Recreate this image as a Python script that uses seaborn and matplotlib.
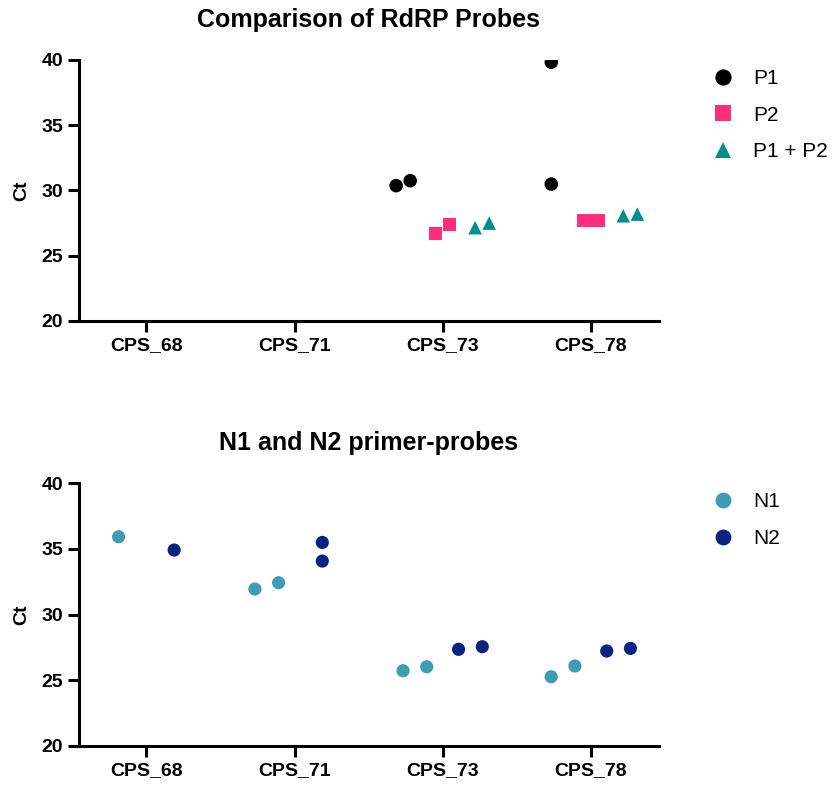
import matplotlib
matplotlib.use("Agg")
import matplotlib.pyplot as plt
import seaborn as sns
import pandas as pd

# samples on the x axis
samples = ["CPS_68", "CPS_71", "CPS_73", "CPS_78"]

# RdRP probes (two replicates per sample, empty where not run)
rdrp_probes = ["P1", "P2", "P1 + P2"]
p1_ct = [[], [], [30.37, 30.75], [39.83, 30.49]]
p2_ct = [[], [], [26.70, 27.38], [27.70, 27.70]]
p1p2_ct = [[], [], [27.15, 27.50], [28.06, 28.19]]

# N1 / N2 primer-probes
n_probes = ["N1", "N2"]
n1_ct = [[35.93], [31.95, 32.43], [25.73, 26.03], [25.27, 26.09]]
n2_ct = [[34.92], [35.50, 34.08], [27.36, 27.56], [27.23, 27.43]]

rdrp_colors = {"P1": "#000000", "P2": "#FF2D7A", "P1 + P2": "#008F8C"}
rdrp_markers = {"P1": "o", "P2": "s", "P1 + P2": "^"}
n_colors = {"N1": "#3F9CB5", "N2": "#0B2283"}
n_markers = {"N1": "o", "N2": "o"}


def build_frame(series, names, group_width, spread, close):
    # long table + x position: sample index, dodge by probe, spread close replicates
    rows = []
    n = len(names)
    for j, (name, vals) in enumerate(zip(names, series)):
        dodge = (j - (n - 1) / 2) * group_width / n
        for i, reps in enumerate(vals):
            reps = sorted(reps)
            if len(reps) == 2 and abs(reps[1] - reps[0]) < close:
                offs = [-spread / 2, spread / 2]
            else:
                offs = [0] * len(reps)
            for v, o in zip(reps, offs):
                rows.append({"sample": samples[i], "probe": name, "ct": v,
                             "x": i + dodge + o})
    return pd.DataFrame(rows)


sns.set_style("ticks")
plt.rcParams["font.family"] = ["Liberation Sans", "DejaVu Sans"]
for key in ["text.color", "axes.labelcolor", "xtick.color", "ytick.color"]:
    plt.rcParams[key] = "black"

fig = plt.figure(figsize=(8.34, 7.85), dpi=100)
ax1 = fig.add_axes([0.0947, 0.5911, 0.6954, 0.3325])
ax2 = fig.add_axes([0.0947, 0.0497, 0.6954, 0.3346])

df_top = build_frame([p1_ct, p2_ct, p1p2_ct], rdrp_probes, 0.8, 0.095, 1.0)
df_bot = build_frame([n1_ct, n2_ct], n_probes, 0.75, 0.16, 1.0)

sns.scatterplot(data=df_top, x="x", y="ct", hue="probe", style="probe",
                hue_order=rdrp_probes, palette=rdrp_colors, markers=rdrp_markers,
                s=95, linewidth=0, ax=ax1)
sns.scatterplot(data=df_bot, x="x", y="ct", hue="probe", style="probe",
                hue_order=n_probes, palette=n_colors, markers=n_markers,
                s=90, linewidth=0, ax=ax2)

titles = ["Comparison of RdRP Probes", "N1 and N2 primer-probes"]
for ax, title in zip([ax1, ax2], titles):
    ax.set_xlim(-0.455, 3.46)
    ax.set_ylim(20, 40)
    ax.set_xticks(range(len(samples)))
    ax.set_xticklabels(samples)
    ax.set_yticks([20, 25, 30, 35, 40])
    ax.set_xlabel("")
    ax.set_ylabel("Ct", fontsize=14, fontweight="bold", labelpad=8)
    ax.set_title(title, fontsize=18, fontweight="bold", pad=24)
    for lab in ax.get_xticklabels() + ax.get_yticklabels():
        lab.set_fontweight("bold")
    ax.tick_params(labelsize=14, width=2.2, length=8, color="black")
    for side in ["left", "bottom"]:
        ax.spines[side].set_linewidth(2.2)
        ax.spines[side].set_color("black")
    sns.despine(ax=ax)
    sns.move_legend(ax, "upper left", bbox_to_anchor=(1.06, 1.037), frameon=False,
                    title=None, fontsize=15, labelspacing=0.85, handlelength=1.0,
                    handletextpad=0.95, markerscale=1.2)

fig.savefig("out.png", dpi=100)
